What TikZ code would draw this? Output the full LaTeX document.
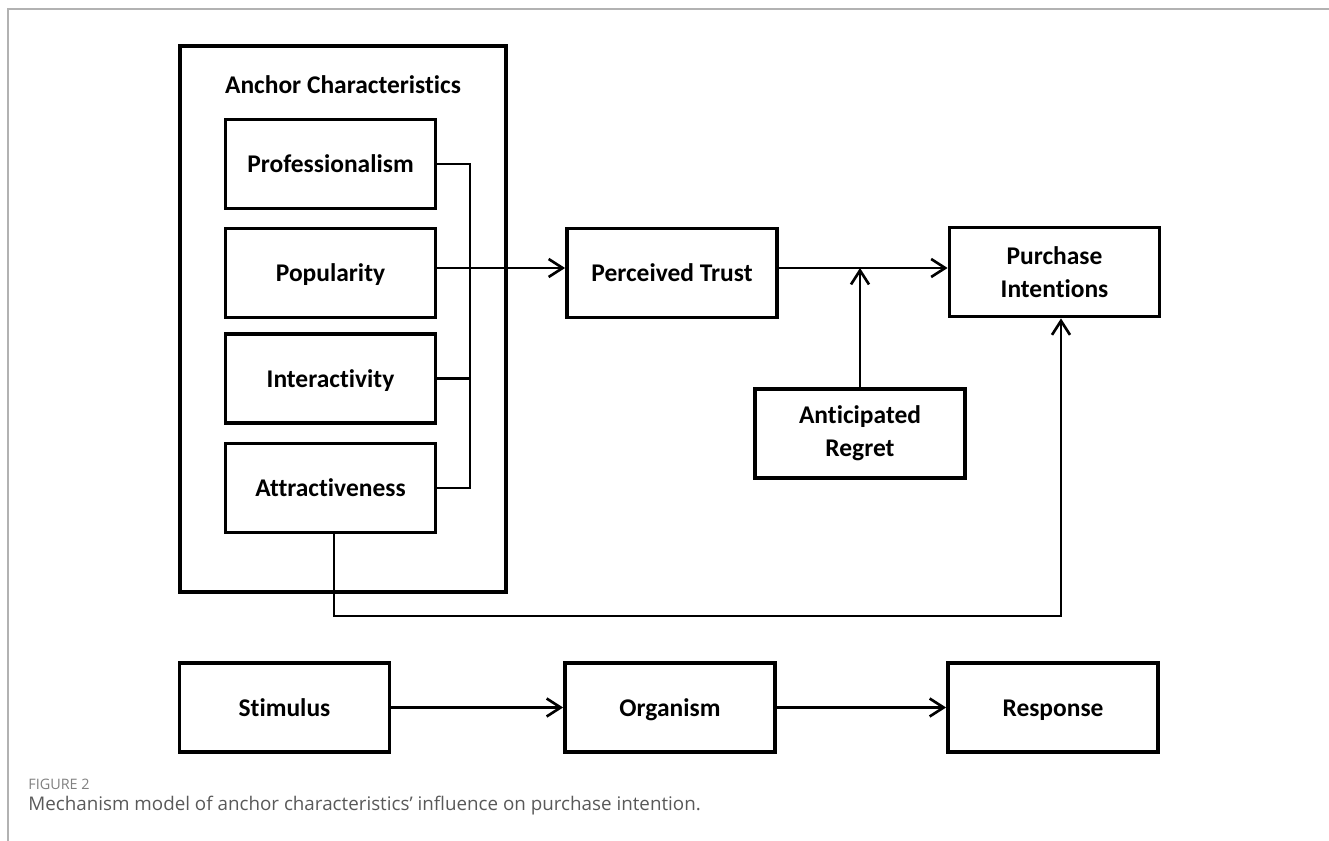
\documentclass[tikz,border=0pt]{standalone}
\usepackage{fontspec}
\setmainfont{Carlito}[Ligatures={NoCommon,NoContextual,NoRequired}]
\newfontfamily\capfont{Open Sans}
\usepackage{tikz}
\usetikzlibrary{arrows.meta,positioning,calc}

\begin{document}
\begin{tikzpicture}[
  x=0.02cm, y=-0.02cm,
  box/.style={rectangle, draw, line width=2.2pt, minimum width=4.2cm, minimum height=1.78cm, font=\fontsize{14.5}{18.8}\selectfont\bfseries, align=center},
  onebox/.style={box, text height=1em, text depth=0em},
  arrow/.style={-{Straight Barb[length=2.8mm,width=3.6mm]}, line width=1.5pt},
  link/.style={line width=1.5pt}
]
\useasboundingbox (0,0) rectangle (1329,841);

% Page frame
\draw[black!30, line width=0.9pt] (8,841) -- (8,9) -- (1329,9);

% Anchor characteristics group
\node[box, minimum width=6.52cm, minimum height=10.92cm] (group) at (343,319) {};
\node[font=\fontsize{14.5}{18.8}\selectfont\bfseries] (grouptitle) at (343,85) {Anchor Characteristics};

\node[onebox] (pro) at (330.5,164) {Professionalism};
\node[onebox] (pop) at (330.5,273) {Popularity};
\node[onebox] (int) at (330.5,378.5) {Interactivity};
\node[onebox] (att) at (330.5,488) {Attractiveness};

% Bracket joining the four characteristics
\coordinate (bustop) at (470,164);
\coordinate (busbot) at (470,488);
\draw[link] (pro.east) -- (bustop) -- (busbot) -- (att.east);
\draw[link] (int.east) -- (int.east -| bustop);

% Organism and response
\node[onebox] (trust) at (672,273) {Perceived Trust};
\node[box] (pi) at (1054.5,272) {Purchase\\Intentions};
\node[box] (regret) at (860,433.5) {Anticipated\\Regret};

% Main arrows
\draw[arrow] ([yshift=0.1cm]pop.east) -- ([yshift=0.1cm]trust.west);
\draw[arrow] ([yshift=0.1cm]trust.east) -- ([yshift=0.1cm]trust.east -| pi.west);
\coordinate (moderate) at (860,268);
\draw[arrow] (regret.north) -- (moderate);

% Direct path
\coordinate (cornerl) at (334,616);
\coordinate (cornerr) at (1061,616);
\draw[arrow] (att.south -| cornerl) -- (cornerl) -- (cornerr) -- (pi.south -| cornerr);

% SOR row
\node[onebox] (stim) at (284.5,707.5) {Stimulus};
\node[onebox] (org) at (670,707.5) {Organism};
\node[onebox] (resp) at (1053,707.5) {Response};
\draw[arrow] (stim) -- (org);
\draw[arrow] (org) -- (resp);

% Caption
\node[anchor=west, inner sep=0pt, text=black!50, font=\capfont\fontsize{8.2}{9}\selectfont] (figlabel) at (28,784) {FIGURE 2};
\node[anchor=west, inner sep=0pt, text=black!65, font=\capfont\fontsize{10.7}{12}\selectfont] (caption) at (28,806) {Mechanism model of anchor characteristics’ influence on purchase intention.};

\end{tikzpicture}
\end{document}
